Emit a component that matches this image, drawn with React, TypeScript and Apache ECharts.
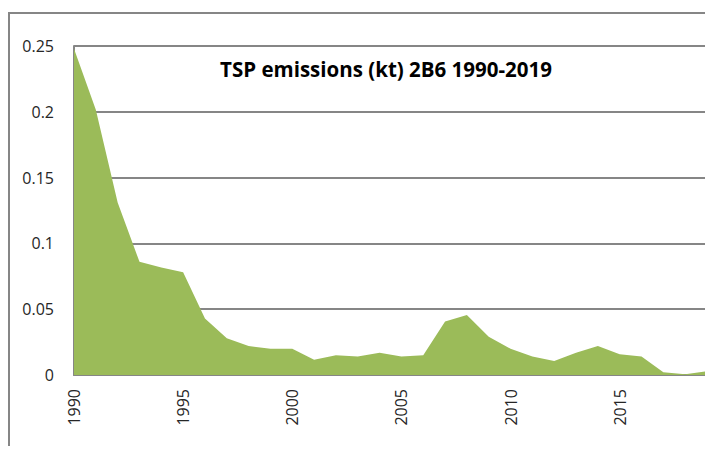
import React, { useEffect, useRef } from "react";
import * as echarts from "echarts";

const years: string[] = [
  "1990","1991","1992","1993","1994","1995","1996","1997","1998","1999",
  "2000","2001","2002","2003","2004","2005","2006","2007","2008","2009",
  "2010","2011","2012","2013","2014","2015","2016","2017","2018","2019",
];
const tspEmissions: number[] = [
  0.248, 0.2015, 0.131, 0.086, 0.0816, 0.078, 0.043, 0.028, 0.022, 0.02,
  0.02, 0.0116, 0.015, 0.014, 0.017, 0.014, 0.015, 0.0407, 0.0455, 0.029,
  0.02, 0.014, 0.0106, 0.017, 0.022, 0.0157, 0.014, 0.002, 0.0005, 0.0028,
];
const chartTitle = "TSP emissions (kt) 2B6 1990-2019";

const FONT = "Open Sans";
const GRID_GRAY = "#868686";

export default function App() {
  const ref = useRef<HTMLDivElement>(null);
  useEffect(() => {
    if (!ref.current) return;
    const chart = echarts.init(ref.current, null, { renderer: "svg" });
    chart.setOption({
      animation: false,
      backgroundColor: "#ffffff",
      title: {
        text: chartTitle,
        left: 381,
        top: 53,
        textAlign: "center",
        textStyle: { fontFamily: FONT, fontWeight: "bold", fontSize: 20.5, color: "#000000" },
      },
      graphic: [
        {
          type: "rect",
          shape: { x: 9, y: 13, width: 720, height: 460 },
          style: { fill: "none", stroke: GRID_GRAY, lineWidth: 2 },
          silent: true,
        },
      ],
      grid: { left: 74, right: 6, top: 46, bottom: 79 },
      xAxis: {
        type: "category",
        data: years,
        boundaryGap: false,
        axisLine: { show: true, lineStyle: { color: GRID_GRAY, width: 2 } },
        axisTick: { show: false },
        axisLabel: {
          interval: 4,
          rotate: 90,
          margin: 14,
          fontFamily: FONT,
          fontSize: 16,
          color: "#262626",
        },
        splitLine: { show: false },
      },
      yAxis: {
        type: "value",
        min: 0,
        max: 0.25,
        interval: 0.05,
        axisLine: { show: true, lineStyle: { color: GRID_GRAY, width: 2 } },
        axisTick: { show: false },
        axisLabel: {
          margin: 20,
          fontFamily: FONT,
          fontSize: 16,
          color: "#262626",
        },
        splitLine: { show: true, lineStyle: { color: GRID_GRAY, width: 2 } },
      },
      series: [
        {
          type: "line",
          data: tspEmissions,
          symbol: "none",
          lineStyle: { width: 0 },
          areaStyle: { color: "#9BBB59", opacity: 1 },
          itemStyle: { color: "#9BBB59" },
          z: 1,
        },
      ],
    });
    return () => chart.dispose();
  }, []);
  return <div ref={ref} style={{ width: 713, height: 454, margin: -8 }} />;
}
